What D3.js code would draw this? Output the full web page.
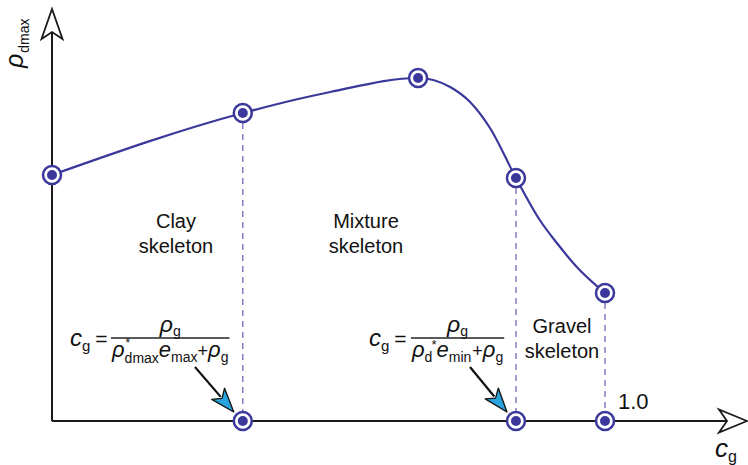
<!DOCTYPE html>
<html>
<head>
<meta charset="utf-8">
<script src="https://cdn.jsdelivr.net/npm/d3@7"></script>
<style>
  body { margin: 0; background: #fff; }
  svg { display: block; }
  text { font-family: "Liberation Sans", Arial, Helvetica, sans-serif; fill: #111; }
</style>
</head>
<body>
<svg id="chart" width="748" height="465"></svg>
<script>
// Characteristic points of the maximum dry density curve (relative units)
const keyCg  = [0, 0.345, 0.662, 0.839, 1.0];
const keyRho = [0.615, 0.77, 0.8575, 0.6075, 0.32];

// Points along the smooth curve through the characteristic points
const curveCg  = [0, 0.345, 0.503, 0.662, 0.72, 0.756, 0.792, 0.839, 0.882, 0.913, 0.949, 1.0];
const curveRho = [0.615, 0.77, 0.8225, 0.8575, 0.835, 0.7975, 0.7325, 0.6075, 0.5025, 0.445, 0.385, 0.32];

// Gravel contents that bound the skeleton types
const boundaryCg  = [0.345, 0.839, 1.0];
const boundaryRho = [0.77, 0.6075, 0.32];

const zoneNames = [["Clay", "skeleton"], ["Mixture", "skeleton"], ["Gravel", "skeleton"]];
const xTickValues = [1.0];
const xTickLabels = ["1.0"];

const svg = d3.select("#chart");
const ink = "#3a389a";
const dashInk = "#6d6cc2";

const x = d3.scaleLinear().domain([0, 1]).range([52, 605]);
const y = d3.scaleLinear().domain([0, 1]).range([421, 21]);

// Axes
const axisG = svg.append("g").attr("stroke", "#1a1a1a").attr("stroke-width", 2).attr("fill", "none");
axisG.append("line").attr("x1", x(0)).attr("y1", y(0)).attr("x2", x(0)).attr("y2", 32);
axisG.append("line").attr("x1", x(0)).attr("y1", y(0)).attr("x2", 727).attr("y2", y(0));

// Dashed drops from the boundary points to the axis
svg.append("g").selectAll("line").data(boundaryCg).join("line")
  .attr("x1", d => x(d)).attr("x2", d => x(d))
  .attr("y1", (d, i) => y(boundaryRho[i]) + 10).attr("y2", y(0) - 10)
  .attr("stroke", dashInk).attr("stroke-width", 1.3).attr("stroke-dasharray", "6,5");

// Curve
const curvePts = curveCg.map((c, i) => ({ cg: c, rho: curveRho[i] }));
const line = d3.line().x(d => x(d.cg)).y(d => y(d.rho)).curve(d3.curveMonotoneX);
svg.append("path").datum(curvePts).attr("d", line)
  .attr("fill", "none").attr("stroke", ink).attr("stroke-width", 2.2);

// Markers: ringed dots
function marker(g, cx, cy) {
  g.append("circle").attr("cx", cx).attr("cy", cy).attr("r", 9)
    .attr("fill", "#fff").attr("stroke", ink).attr("stroke-width", 2.5);
  g.append("circle").attr("cx", cx).attr("cy", cy).attr("r", 5).attr("fill", ink);
}
const mk = svg.append("g");
keyCg.forEach((c, i) => marker(mk, x(c), y(keyRho[i])));
boundaryCg.forEach(c => marker(mk, x(c), y(0)));

// Axis arrowheads (open, notched)
const headY = [[x(0), 9], [x(0) - 10.5, 39], [x(0), 32], [x(0) + 10.5, 39]];
const headX = [[747, y(0)], [719, y(0) - 11.5], [727, y(0)], [719, y(0) + 11.5]];
[headY, headX].forEach(p => {
  svg.append("path").attr("d", "M" + p.map(q => q.join(",")).join("L") + "Z")
    .attr("fill", "#fff").attr("stroke", "#1a1a1a").attr("stroke-width", 1.8).attr("stroke-linejoin", "miter");
});

// Tick label
xTickValues.forEach((v, i) => {
  svg.append("text").attr("x", x(v) + 13).attr("y", 409).attr("font-size", 22).text(xTickLabels[i]);
});

// Axis titles
const yTitle = svg.append("text").attr("transform", "translate(23,68) rotate(-90)");
yTitle.append("tspan").attr("font-size", 25).attr("font-style", "italic").text("ρ");
yTitle.append("tspan").attr("font-size", 14).attr("dy", 6).attr("dx", 1).text("dmax");

const xTitle = svg.append("text").attr("x", 715).attr("y", 457);
xTitle.append("tspan").attr("font-size", 26).attr("font-style", "italic").text("c");
xTitle.append("tspan").attr("font-size", 16).attr("dy", 5).text("g");

// Skeleton zone labels
const zoneX = [176, 366, 562], zoneY = [228, 228, 333], zoneGap = [25, 25, 25];
zoneNames.forEach((lines, i) => {
  lines.forEach((t, j) => {
    svg.append("text").attr("x", zoneX[i]).attr("y", zoneY[i] + j * zoneGap[i])
      .attr("text-anchor", "middle").attr("font-size", 20).text(t);
  });
});

// Sequential text runs; items flagged "stack" do not advance the pen
function runs(g, x0, y0, items) {
  let cx = x0;
  items.forEach(it => {
    const el = g.append("text").attr("x", cx + (it.dx || 0)).attr("y", y0 + (it.dy || 0))
      .attr("font-size", it.size).attr("font-style", it.italic ? "italic" : "normal").text(it.t);
    const w = el.node().getComputedTextLength();
    if (!it.stack) cx += (it.dx || 0) + w;
  });
  return cx - x0;
}

function formula(x0, barX, barY, denItems) {
  const g = svg.append("g");
  runs(g, x0, barY + 8, [
    { t: "c", size: 24, italic: true },
    { t: "g", size: 15, dy: 5 },
    { t: "=", size: 21, dx: 5 }
  ]);
  const den = svg.append("g");
  const w = runs(den, barX + 1, barY + 19, denItems);
  g.append("line").attr("x1", barX).attr("x2", barX + w + 2).attr("y1", barY).attr("y2", barY)
    .attr("stroke", "#222").attr("stroke-width", 1.3);
  const num = svg.append("g");
  const nw = runs(num, 0, barY - 6, [
    { t: "ρ", size: 23, italic: true },
    { t: "g", size: 14, dy: 4 }
  ]);
  num.attr("transform", `translate(${barX + (w + 2 - nw) / 2},0)`);
}

formula(70, 111, 338, [
  { t: "ρ", size: 22, italic: true },
  { t: "*", size: 12, dy: -10, stack: true, dx: 1 },
  { t: "dmax", size: 14, dy: 6 },
  { t: "e", size: 22, italic: true },
  { t: "max", size: 14, dy: 5 },
  { t: "+", size: 18 },
  { t: "ρ", size: 22, italic: true },
  { t: "g", size: 14, dy: 5 }
]);

formula(369, 411, 338, [
  { t: "ρ", size: 22, italic: true },
  { t: "d", size: 14, dy: 5 },
  { t: "*", size: 13, dy: -8, dx: -1 },
  { t: "e", size: 22, italic: true },
  { t: "min", size: 14, dy: 5 },
  { t: "+", size: 18, dx: 1 },
  { t: "ρ", size: 22, italic: true },
  { t: "g", size: 14, dy: 5 }
]);

// Pointer arrows from each formula to its axis marker
function pointer(x1, y1, x2, y2) {
  const ang = Math.atan2(y2 - y1, x2 - x1);
  const len = 24, half = 8.5;
  const bx = x2 - len * Math.cos(ang), by = y2 - len * Math.sin(ang);
  svg.append("line").attr("x1", x1).attr("y1", y1).attr("x2", bx + 4 * Math.cos(ang)).attr("y2", by + 4 * Math.sin(ang))
    .attr("stroke", "#111").attr("stroke-width", 2.2);
  const nx = -Math.sin(ang), ny = Math.cos(ang);
  const pts = [[x2, y2], [bx + nx * half, by + ny * half], [bx + 6 * Math.cos(ang), by + 6 * Math.sin(ang)], [bx - nx * half, by - ny * half]];
  svg.append("path").attr("d", "M" + pts.map(p => p.join(",")).join("L") + "Z")
    .attr("fill", "#29a3dc").attr("stroke", "#111").attr("stroke-width", 1.3).attr("stroke-linejoin", "round");
}
pointer(195, 367, x(boundaryCg[0]) - 9, y(0) - 9);
pointer(470, 367, x(boundaryCg[1]) - 9, y(0) - 9);
</script>
</body>
</html>
